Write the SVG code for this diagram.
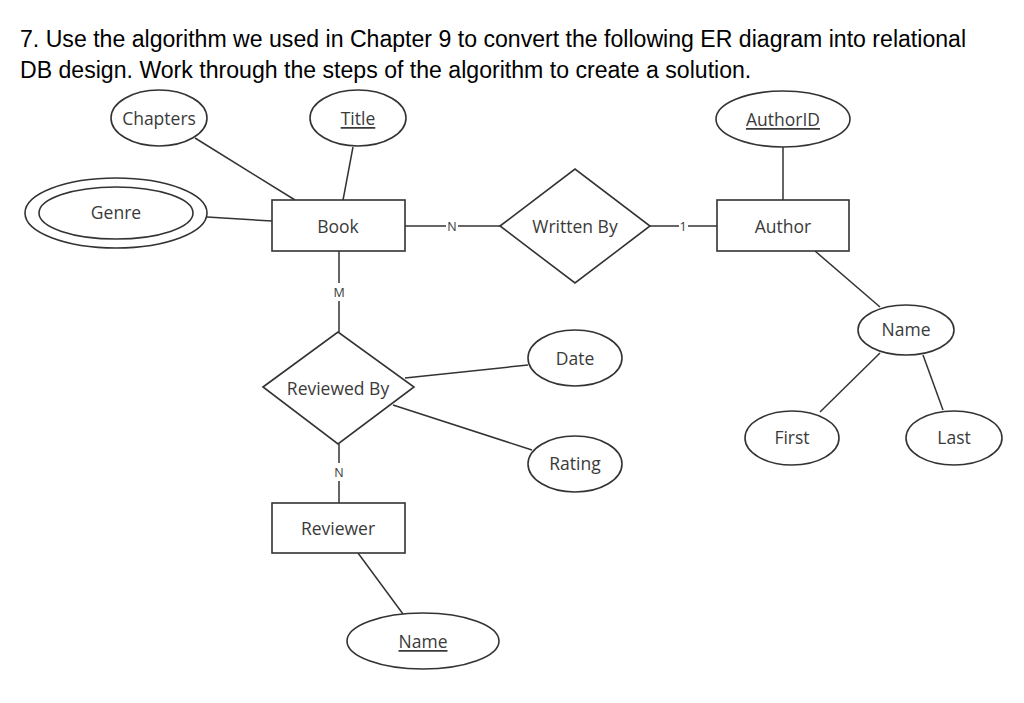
<svg xmlns="http://www.w3.org/2000/svg" width="1024" height="703" viewBox="0 0 1024 703">
<style>
.h{font-family:"Liberation Sans",Arial,sans-serif;font-size:23.1px;fill:#000}
.s{fill:#fff;stroke:#333;stroke-width:1.6}
.t{font-family:"Open Sans","DejaVu Sans",sans-serif;font-size:17.5px;fill:#3a3a3a;text-anchor:middle;dominant-baseline:central}
.u{text-decoration:underline}
.c{stroke:#333;stroke-width:1.5;fill:none}
.k{font-family:"Open Sans","DejaVu Sans",sans-serif;font-size:12.5px;fill:#3a3a3a;text-anchor:middle;dominant-baseline:central}
</style>
<rect width="1024" height="703" fill="#fff"/>
<text class="h" x="20" y="47">7. Use the algorithm we used in Chapter 9 to convert the following ER diagram into relational</text>
<text class="h" x="20" y="78">DB design. Work through the steps of the algorithm to create a solution.</text>
<g id="connectors">
<line class="c" x1="195" y1="138" x2="295" y2="200"/>
<line class="c" x1="353" y1="147" x2="343" y2="200"/>
<line class="c" x1="207" y1="217" x2="272" y2="221"/>
<line class="c" x1="405" y1="226" x2="446" y2="226"/>
<line class="c" x1="458" y1="226" x2="500" y2="226"/>
<text class="k" x="452" y="226">N</text>
<line class="c" x1="650" y1="226" x2="679" y2="226"/>
<line class="c" x1="688" y1="226" x2="717" y2="226"/>
<text class="k" x="683" y="226">1</text>
<line class="c" x1="783" y1="147" x2="783" y2="200"/>
<line class="c" x1="815" y1="251" x2="880" y2="307"/>
<line class="c" x1="880" y1="353" x2="820" y2="412"/>
<line class="c" x1="923" y1="355" x2="943" y2="410"/>
<line class="c" x1="339" y1="251" x2="339" y2="283"/>
<text class="k" x="339" y="292">M</text>
<line class="c" x1="339" y1="301" x2="339" y2="332"/>
<line class="c" x1="405" y1="378" x2="528" y2="365"/>
<line class="c" x1="393" y1="405" x2="532" y2="450"/>
<line class="c" x1="339" y1="444" x2="339" y2="463"/>
<text class="k" x="339" y="472">N</text>
<line class="c" x1="339" y1="481" x2="339" y2="503"/>
<line class="c" x1="358" y1="553" x2="403" y2="614"/>
</g>
<g id="chapters"><ellipse class="s" cx="159" cy="118" rx="48" ry="28"/><text class="t" x="159" y="118">Chapters</text></g>
<g id="title"><ellipse class="s" cx="358" cy="118" rx="48" ry="28"/><text class="t u" x="358" y="118">Title</text></g>
<g id="genre"><ellipse class="s" cx="116" cy="213" rx="91" ry="35"/><ellipse class="s" cx="116" cy="213" rx="77" ry="26"/><text class="t" x="116" y="212">Genre</text></g>
<g id="book"><rect class="s" x="272" y="200" width="133" height="51"/><text class="t" x="338" y="226">Book</text></g>
<g id="writtenby"><polygon class="s" points="500,226 575,169 650,226 575,283"/><text class="t" x="575" y="226">Written By</text></g>
<g id="author"><rect class="s" x="717" y="200" width="132" height="51"/><text class="t" x="783" y="226">Author</text></g>
<g id="authorid"><ellipse class="s" cx="783" cy="119" rx="67" ry="28"/><text class="t u" x="783" y="119">AuthorID</text></g>
<g id="name-author"><ellipse class="s" cx="906" cy="330" rx="48" ry="25"/><text class="t" x="906" y="329">Name</text></g>
<g id="first"><ellipse class="s" cx="792" cy="438" rx="47" ry="27"/><text class="t" x="792" y="437">First</text></g>
<g id="last"><ellipse class="s" cx="954" cy="438" rx="48" ry="27"/><text class="t" x="954" y="437">Last</text></g>
<g id="reviewedby"><polygon class="s" points="263,387 338,332 414,387 338,444"/><text class="t" x="338" y="388">Reviewed By</text></g>
<g id="date"><ellipse class="s" cx="575" cy="358" rx="47" ry="28"/><text class="t" x="575" y="358">Date</text></g>
<g id="rating"><ellipse class="s" cx="575" cy="464" rx="47" ry="28"/><text class="t" x="575" y="463">Rating</text></g>
<g id="reviewer"><rect class="s" x="272" y="503" width="133" height="50"/><text class="t" x="338" y="528">Reviewer</text></g>
<g id="name-reviewer"><ellipse class="s" cx="423" cy="641" rx="76" ry="28"/><text class="t u" x="423" y="641">Name</text></g>
</svg>
